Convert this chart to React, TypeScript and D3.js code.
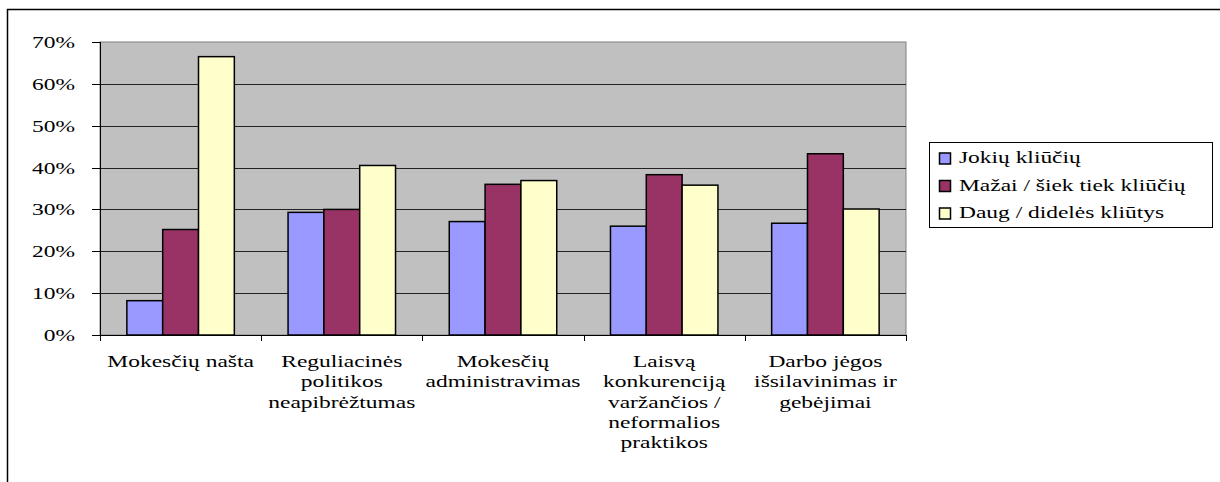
import React from "react";
import * as d3 from "d3";

const categories = [
  ["Mokesčių našta"],
  ["Reguliacinės", "politikos", "neapibrėžtumas"],
  ["Mokesčių", "administravimas"],
  ["Laisvą", "konkurenciją", "varžančios /", "neformalios", "praktikos"],
  ["Darbo jėgos", "išsilavinimas ir", "gebėjimai"],
];
const seriesNames = ["Jokių kliūčių", "Mažai / šiek tiek kliūčių", "Daug / didelės kliūtys"];
const seriesColors = ["#9999FF", "#993366", "#FFFFCC"];
const jokiu = [0.082, 0.293, 0.271, 0.26, 0.267];
const mazai = [0.252, 0.3, 0.36, 0.383, 0.433];
const daug = [0.665, 0.405, 0.369, 0.358, 0.301];
const yTicks = [0, 0.1, 0.2, 0.3, 0.4, 0.5, 0.6, 0.7];

const FONT = '"Liberation Serif", "Times New Roman", Tinos, "DejaVu Serif", serif';
const FS = 17;
const SX = 1.38;

function SText({ x, y, anchor, children, size = FS }: any) {
  return (
    <text
      transform={`translate(${x},${y}) scale(${SX},1)`}
      textAnchor={anchor}
      style={{ fontFamily: FONT, fontSize: size + "px" }}
      fill="#000"
    >
      {children}
    </text>
  );
}

export default function App() {
  const W = 1220, H = 482;
  const left = 100, right = 906, top = 42, bottom = 335;
  const series = [jokiu, mazai, daug];
  const catKeys = categories.map((c, i) => String(i));
  const x0 = d3.scaleBand().domain(catKeys).range([left, right]).padding(0);
  const x1 = d3
    .scaleBand()
    .domain(seriesNames)
    .range([0, x0.bandwidth()])
    .paddingInner(0)
    .paddingOuter(0.75);
  const y = d3.scaleLinear().domain([0, 0.7]).range([bottom, top]);
  const fmt = d3.format(".0%");

  return (
    <svg width={W} height={H} style={{ position: "absolute", left: 0, top: 0, background: "#fff" }}>
      <rect x={7.5} y={9.5} width={1230} height={490} fill="#fff" stroke="#000" strokeWidth={1.5} />
      <rect x={left} y={top} width={right - left} height={bottom - top} fill="#C0C0C0" stroke="#808080" strokeWidth={1} />
      {yTicks.slice(1, -1).map((t) => (
        <line key={t} x1={left} x2={right} y1={Math.round(y(t)) + 0.5} y2={Math.round(y(t)) + 0.5} stroke="#222" strokeWidth={1} />
      ))}
      {catKeys.map((k, ci) =>
        series.map((vals, si) => {
          const bx = (x0(k) as number) + (x1(seriesNames[si]) as number);
          const by = y(vals[ci]);
          return (
            <rect
              key={k + "-" + si}
              x={bx}
              y={by}
              width={x1.bandwidth()}
              height={bottom - by}
              fill={seriesColors[si]}
              stroke="#000"
              strokeWidth={1.5}
            />
          );
        })
      )}
      <line x1={left + 0.5} x2={left + 0.5} y1={top} y2={bottom} stroke="#000" strokeWidth={1} />
      {yTicks.map((t) => (
        <g key={"yt" + t}>
          <line x1={92} x2={left} y1={Math.round(y(t)) + 0.5} y2={Math.round(y(t)) + 0.5} stroke="#000" strokeWidth={1} />
          <SText x={75} y={y(t) + 6} anchor="end">{fmt(t)}</SText>
        </g>
      ))}
      <line x1={left} x2={right} y1={bottom + 0.5} y2={bottom + 0.5} stroke="#000" strokeWidth={1} />
      {d3.range(6).map((i) => {
        const xx = Math.round(left + i * x0.step()) + 0.5;
        return <line key={"xt" + i} x1={xx} x2={xx} y1={bottom} y2={bottom + 6} stroke="#000" strokeWidth={1} />;
      })}
      {categories.map((lines, ci) => {
        const cx = (x0(String(ci)) as number) + x0.bandwidth() / 2;
        return lines.map((ln, li) => (
          <SText key={ci + "-" + li} x={cx} y={367 + li * 20.3} anchor="middle">{ln}</SText>
        ));
      })}
      <rect x={929.5} y={142.5} width={283} height={85} fill="#fff" stroke="#000" strokeWidth={1} />
      {seriesNames.map((n, i) => {
        const by = 163 + i * 27.5;
        return (
          <g key={n}>
            <rect x={939.5} y={by - 10} width={11} height={11} fill={seriesColors[i]} stroke="#000" strokeWidth={1.5} />
            <SText x={959} y={by} anchor="start">{n}</SText>
          </g>
        );
      })}
    </svg>
  );
}
